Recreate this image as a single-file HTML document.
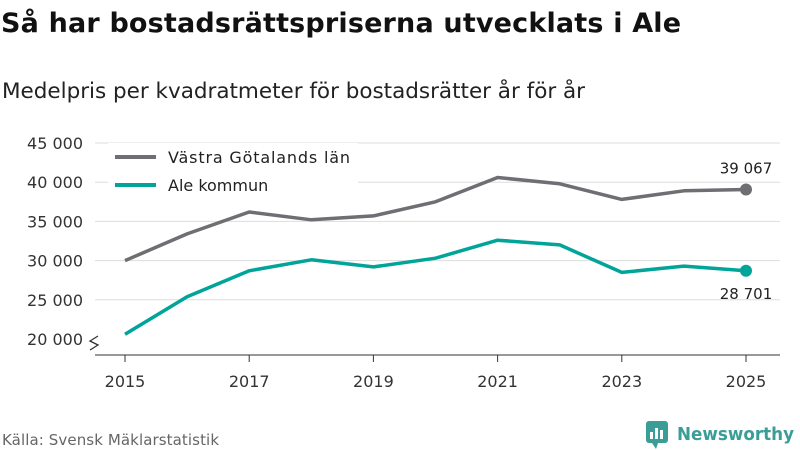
<!DOCTYPE html>
<html><head><meta charset="utf-8">
<style>
body{margin:0;background:#fff;font-family:"DejaVu Sans","Liberation Sans",sans-serif;}
#wrap{position:relative;width:800px;height:450px;overflow:hidden;}
</style></head>
<body>
<div id="wrap">
<svg id="chart" width="800" height="450" xmlns="http://www.w3.org/2000/svg" font-family="DejaVu Sans, Liberation Sans, sans-serif">
<text x="1" y="32" font-size="27" font-weight="bold" fill="#111" textLength="680">Så har bostadsrättspriserna utvecklats i Ale</text>
<text x="2" y="98" font-size="21.5" fill="#222" textLength="583">Medelpris per kvadratmeter för bostadsrätter år för år</text>
<g id="grid"></g>
<g id="yticks"></g>
<g id="xticks"></g>
<path d="M90 350 l8 -5 l-8 -4 l8 -5" fill="none" stroke="#333" stroke-width="1.3"/>
<g id="series"></g>
<g>
<rect x="108" y="143" width="250" height="56" fill="#fff"/>
<line x1="115" y1="157" x2="156" y2="157" stroke="#6e6e73" stroke-width="4"/>
<text x="168" y="163" font-size="16" fill="#222" textLength="182">Västra Götalands län</text>
<line x1="115" y1="185" x2="156" y2="185" stroke="#00a499" stroke-width="4"/>
<text x="168" y="191" font-size="16" fill="#222">Ale kommun</text>
</g>
<text x="2" y="445" font-size="15" fill="#666" textLength="217">Källa: Svensk Mäklarstatistik</text>
<g>
<rect x="646" y="421" width="22" height="22" rx="3" fill="#3a9e97"/>
<rect x="650" y="432" width="3" height="7" fill="#fff"/><rect x="655" y="428" width="3" height="11" fill="#fff"/><rect x="660" y="430" width="3" height="9" fill="#fff"/>
<path d="M652 443 l4 6 l2 -6z" fill="#3a9e97"/>
<text x="677" y="440" font-size="18" font-weight="bold" fill="#3a9e97" textLength="117" lengthAdjust="spacingAndGlyphs">Newsworthy</text>
</g>
</svg>
</div>
<script>
const years=[2015,2016,2017,2018,2019,2020,2021,2022,2023,2024,2025];
const vastraGotaland=[30000,33400,36200,35200,35700,37500,40600,39800,37800,38900,39067];
const ale=[20600,25400,28700,30100,29200,30300,32600,32000,28500,29300,28701];
const yTicks=[20000,25000,30000,35000,40000,45000];
const xTickYears=[2015,2017,2019,2021,2023,2025];
const NS="http://www.w3.org/2000/svg";
function xs(y){return 125+(y-2015)*62.1;}
function ys(v){return 339-(v-20000)*196/25000;}
function fmt(v){return String(v).replace(/\B(?=(\d{3})+(?!\d))/g," ");}
function mk(t,a,p){const e=document.createElementNS(NS,t);for(const k in a)e.setAttribute(k,a[k]);p.appendChild(e);return e;}
const grid=document.getElementById('grid'),yt=document.getElementById('yticks'),xt=document.getElementById('xticks'),ser=document.getElementById('series');
yTicks.forEach(v=>{
 if(v>20000){const l=mk('line',{x1:95,x2:780,y1:ys(v),y2:ys(v),stroke:'#ddd','stroke-width':1},grid);
 
 }
 const t=mk('text',{x:83,y:ys(v)+6,'text-anchor':'end','font-size':16,fill:'#333'},yt);t.textContent=fmt(v);
 
 
});
const base=mk('line',{x1:95,x2:780,y1:355,y2:355,stroke:'#333','stroke-width':1},xt);


xTickYears.forEach(y=>{
 const tk=mk('line',{x1:xs(y),x2:xs(y),y1:355,y2:362,stroke:'#333'},xt);
 
 
 const t=mk('text',{x:xs(y),y:387,'text-anchor':'middle','font-size':16,fill:'#333'},xt);t.textContent=y;
 
 
});
function line(vals,color,name,labelDy){
 const d=vals.map((v,i)=>(i?'L':'M')+xs(years[i]).toFixed(1)+' '+ys(v).toFixed(1)).join(' ');
 const p=mk('path',{d:d,fill:'none',stroke:color,'stroke-width':3.5,'stroke-linejoin':'round'},ser);
 
 
 const n=vals.length-1;
 const c=mk('circle',{cx:xs(years[n]),cy:ys(vals[n]),r:6,fill:color},ser);
 
 
 const t=mk('text',{x:xs(years[n]),y:ys(vals[n])+labelDy,'text-anchor':'middle','font-size':15,fill:'#222'},ser);
 t.textContent=fmt(vals[n]);
 
 
}
line(vastraGotaland,'#6e6e73','vastra-gotaland',-16);
line(ale,'#00a499','ale',28);
</script>
</body></html>
